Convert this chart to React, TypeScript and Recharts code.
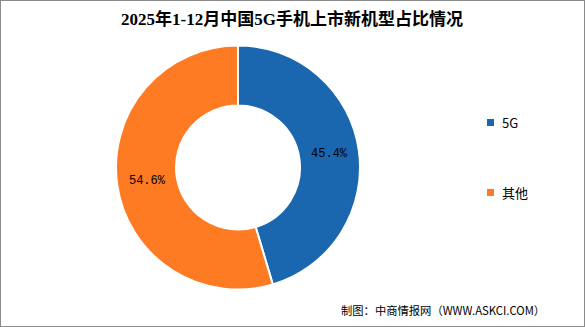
import React from 'react';
import { PieChart, Pie, Cell } from 'recharts';

const categories = ['5G', '其他'];
const values = [45.4, 54.6];
const colors = ['#1B67AF', '#FE7B24'];
const title = '2025年1-12月中国5G手机上市新机型占比情况';
const source = '制图：中商情报网（WWW.ASKCI.COM）';

const data = categories.map((name, i) => ({ name, value: values[i] }));

const RAD = Math.PI / 180;
const renderLabel = (props: any) => {
  const { cx, cy, midAngle, innerRadius, outerRadius, value } = props;
  const r = (innerRadius + outerRadius) / 2;
  const x = cx + r * Math.cos(-midAngle * RAD);
  const y = cy + r * Math.sin(-midAngle * RAD);
  return (
    <text x={x} y={y} textAnchor="middle" dominantBaseline="central" fontFamily="'Liberation Mono', monospace" fontSize={12} fill="#000">
      {`${value.toFixed(1)}%`}
    </text>
  );
};

export default function App() {
  return (
    <div style={{ position: 'absolute', left: 0, top: 0, width: 585, height: 327, background: '#fff', boxSizing: 'border-box', border: '1.5px solid #8a8a8a', overflow: 'hidden' }}>
      <div style={{ position: 'absolute', left: -1.5, top: -1.5 }}>
        <PieChart width={585} height={327} margin={{ top: 0, right: 0, bottom: 0, left: 0 }}>
          <Pie
            data={data}
            dataKey="value"
            nameKey="name"
            cx={238}
            cy={167.5}
            innerRadius={62}
            outerRadius={122}
            startAngle={90}
            endAngle={-270}
            stroke="#fff"
            strokeWidth={2}
            label={renderLabel}
            labelLine={false}
            isAnimationActive={false}
          >
            {data.map((d, i) => (
              <Cell key={d.name} fill={colors[i]} />
            ))}
          </Pie>
        </PieChart>
      </div>
      <div style={{ position: 'absolute', left: -1.5, top: 7, width: 585, textAlign: 'center', fontFamily: "'Liberation Serif', 'Noto Sans CJK SC', serif", fontWeight: 'bold', fontSize: 17, lineHeight: '24px', color: '#000' }}>
        {title}
      </div>
      {categories.map((c, i) => (
        <div key={c} style={{ position: 'absolute', left: 486, top: i === 0 ? 112 : 182, height: 18, display: 'flex', alignItems: 'center', fontFamily: "'Noto Sans CJK SC', sans-serif", fontSize: 13, color: '#000' }}>
          <span style={{ display: 'inline-block', width: 7, height: 7, background: colors[i], marginRight: 8 }} />
          <span>{c}</span>
        </div>
      ))}
      <div style={{ position: 'absolute', left: 340, top: 300, fontFamily: "'Noto Sans CJK SC', sans-serif", fontSize: 11.3, lineHeight: '18px', color: '#000', whiteSpace: 'nowrap' }}>
        {source}
      </div>
    </div>
  );
}
